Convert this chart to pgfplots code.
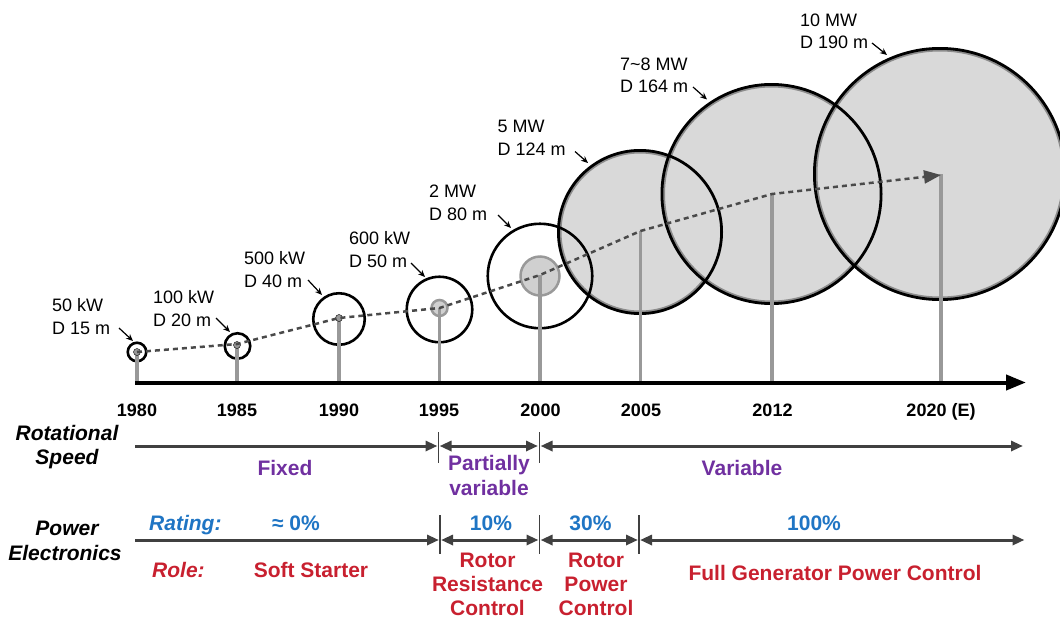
\documentclass[border=0pt]{standalone}
\usepackage{pgfplots}
\pgfplotsset{compat=1.18}
\usepackage{fontspec}
\setmainfont{Liberation Sans}
\usetikzlibrary{arrows.meta}
\definecolor{rsPurple}{HTML}{7030A0}
\definecolor{peBlue}{HTML}{1F75C4}
\definecolor{peRed}{HTML}{C8202F}
\definecolor{fillgray}{HTML}{D9D9D9}
\definecolor{ringgray}{HTML}{8C8C8C}
\definecolor{towergray}{HTML}{999999}
\definecolor{dashgray}{HTML}{4A4A4A}
\definecolor{arrowgray}{HTML}{404040}
\definecolor{hubfill}{HTML}{D0D0D0}
\newcommand\lab{\fontsize{18}{21}\selectfont}
\newcommand\yr{\fontsize{18}{21}\selectfont\bfseries}
\newcommand\bt{\fontsize{21}{25}\selectfont\bfseries}
\newcommand\bit{\fontsize{21}{25}\selectfont\bfseries\itshape}
\begin{document}
\begin{tikzpicture}
\begin{axis}[width=1060pt, height=619pt, scale only axis,
  xmin=0, xmax=1060, ymin=0, ymax=619, y dir=reverse,
  hide axis, clip marker paths=true]

% ---- filled big rotors (fill + gray ring)
\addplot[only marks, mark=*, mark size=80pt, mark options={fill=fillgray, draw=ringgray, line width=3pt}] coordinates {(640,232)};
\addplot[only marks, mark=*, mark size=108pt, mark options={fill=fillgray, draw=ringgray, line width=3pt}] coordinates {(771.5,194)};
\addplot[only marks, mark=*, mark size=124pt, mark options={fill=fillgray, draw=ringgray, line width=3pt}] coordinates {(940,174)};

% ---- black rotor outlines
\addplot[only marks, mark=o, mark size=9.25pt, mark options={draw=black, line width=2.6pt}] coordinates {(137,352)};
\addplot[only marks, mark=o, mark size=12.75pt, mark options={draw=black, line width=2.6pt}] coordinates {(237.5,346)};
\addplot[only marks, mark=o, mark size=25.75pt, mark options={draw=black, line width=2.6pt}] coordinates {(339,319)};
\addplot[only marks, mark=o, mark size=32.75pt, mark options={draw=black, line width=2.6pt}] coordinates {(439.5,309.5)};
\addplot[only marks, mark=o, mark size=52.25pt, mark options={draw=black, line width=2.6pt}] coordinates {(540,276)};
\addplot[only marks, mark=o, mark size=81.6pt, mark options={draw=black, line width=2.8pt}] coordinates {(640,232)};
\addplot[only marks, mark=o, mark size=109.6pt, mark options={draw=black, line width=2.8pt}] coordinates {(771.5,194)};
\addplot[only marks, mark=o, mark size=125.6pt, mark options={draw=black, line width=2.8pt}] coordinates {(940,174)};

% ---- hubs
\addplot[only marks, mark=*, mark size=8pt, mark options={fill=hubfill, draw=towergray, line width=2.5pt}] coordinates {(439.5,308)};
\addplot[only marks, mark=*, mark size=19.5pt, mark options={fill=hubfill, draw=towergray, line width=2.5pt}] coordinates {(540,276)};

% ---- towers
\addplot[towergray, line width=3.5pt] coordinates {(137,352) (137,382)};
\addplot[towergray, line width=3.5pt] coordinates {(237,345) (237,382)};
\addplot[towergray, line width=3.5pt] coordinates {(339,318) (339,382)};
\addplot[towergray, line width=3.5pt] coordinates {(439.5,308) (439.5,382)};
\addplot[towergray, line width=3.5pt] coordinates {(540,275) (540,382)};
\addplot[towergray, line width=3.5pt] coordinates {(640.5,231) (640.5,382)};
\addplot[towergray, line width=3.5pt] coordinates {(772,194) (772,382)};
\addplot[towergray, line width=3.5pt] coordinates {(941,174) (941,382)};
\addplot[only marks, mark=*, mark size=3.5pt, mark options={fill=towergray, draw=none}] coordinates {(137,352) (237,345) (339,318)};

% ---- trend line
\addplot[dashgray, line width=2.5pt, dash pattern=on 5pt off 4pt, -{Triangle[length=17pt,width=13pt]}]
  coordinates {(137,352) (237,344) (339,318) (439.5,308) (540,275) (640.5,231) (772,194) (941,175)};

% ---- time axis
\addplot[black, line width=4pt, -{Triangle[length=20pt,width=15pt]}] coordinates {(135,382.5) (1026,382.5)};

% ---- label arrows
\addplot[black, line width=1.2pt, -{Stealth[length=7pt,width=6pt]}] coordinates {(119,328) (133,341)};
\addplot[black, line width=1.2pt, -{Stealth[length=7pt,width=6pt]}] coordinates {(216,318) (230,332)};
\addplot[black, line width=1.2pt, -{Stealth[length=7pt,width=6pt]}] coordinates {(308,280) (322,295)};
\addplot[black, line width=1.2pt, -{Stealth[length=7pt,width=6pt]}] coordinates {(411,263) (425,277)};
\addplot[black, line width=1.2pt, -{Stealth[length=7pt,width=6pt]}] coordinates {(498,215) (511,228)};
\addplot[black, line width=1.2pt, -{Stealth[length=7pt,width=6pt]}] coordinates {(575,151.5) (588,163)};
\addplot[black, line width=1.2pt, -{Stealth[length=7pt,width=6pt]}] coordinates {(693,87) (707,99.5)};
\addplot[black, line width=1.2pt, -{Stealth[length=7pt,width=6pt]}] coordinates {(872,43) (887,55)};

% ---- rotor labels
\node[anchor=base west, inner sep=0, font=\lab] at (axis cs:52,311.5) {50 kW};
\node[anchor=base west, inner sep=0, font=\lab] at (axis cs:52,334.5) {D 15 m};
\node[anchor=base west, inner sep=0, font=\lab] at (axis cs:153,303.5) {100 kW};
\node[anchor=base west, inner sep=0, font=\lab] at (axis cs:153,326) {D 20 m};
\node[anchor=base west, inner sep=0, font=\lab] at (axis cs:244,264.5) {500 kW};
\node[anchor=base west, inner sep=0, font=\lab] at (axis cs:244,287) {D 40 m};
\node[anchor=base west, inner sep=0, font=\lab] at (axis cs:349,244) {600 kW};
\node[anchor=base west, inner sep=0, font=\lab] at (axis cs:349,267) {D 50 m};
\node[anchor=base west, inner sep=0, font=\lab] at (axis cs:429,197.5) {2 MW};
\node[anchor=base west, inner sep=0, font=\lab] at (axis cs:429,220.5) {D 80 m};
\node[anchor=base west, inner sep=0, font=\lab] at (axis cs:497.5,132.5) {5 MW};
\node[anchor=base west, inner sep=0, font=\lab] at (axis cs:497.5,155) {D 124 m};
\node[anchor=base west, inner sep=0, font=\lab] at (axis cs:620,70) {7\textasciitilde 8 MW};
\node[anchor=base west, inner sep=0, font=\lab] at (axis cs:620,92.5) {D 164 m};
\node[anchor=base west, inner sep=0, font=\lab] at (axis cs:800,26.5) {10 MW};
\node[anchor=base west, inner sep=0, font=\lab] at (axis cs:800,48.5) {D 190 m};

% ---- years
\node[anchor=base, inner sep=0, font=\yr] at (axis cs:137,416) {1980};
\node[anchor=base, inner sep=0, font=\yr] at (axis cs:237,416) {1985};
\node[anchor=base, inner sep=0, font=\yr] at (axis cs:339,416) {1990};
\node[anchor=base, inner sep=0, font=\yr] at (axis cs:439,416) {1995};
\node[anchor=base, inner sep=0, font=\yr] at (axis cs:540.5,416) {2000};
\node[anchor=base, inner sep=0, font=\yr] at (axis cs:641,416) {2005};
\node[anchor=base, inner sep=0, font=\yr] at (axis cs:772.5,416) {2012};
\node[anchor=base, inner sep=0, font=\yr] at (axis cs:941,416) {2020 (E)};

% ---- rotational speed row
\addplot[arrowgray, line width=3pt, -{Triangle[length=12pt,width=10pt]}] coordinates {(135,446) (437.5,446)};
\addplot[arrowgray, line width=3pt, {Triangle[length=12pt,width=10pt]}-{Triangle[length=12pt,width=10pt]}] coordinates {(439.5,446) (538,446)};
\addplot[arrowgray, line width=3pt, {Triangle[length=12pt,width=10pt]}-{Triangle[length=12pt,width=10pt]}] coordinates {(540.5,446) (1023,446)};
\addplot[arrowgray, line width=1.5pt] coordinates {(438.5,432) (438.5,463)};
\addplot[arrowgray, line width=1.5pt] coordinates {(539.3,432) (539.3,463)};

% ---- power electronics row
\addplot[arrowgray, line width=3pt, -{Triangle[length=12pt,width=10pt]}] coordinates {(135,540) (439,540)};
\addplot[arrowgray, line width=3pt, {Triangle[length=12pt,width=10pt]}-{Triangle[length=12pt,width=10pt]}] coordinates {(441,540) (538.5,540)};
\addplot[arrowgray, line width=3pt, {Triangle[length=12pt,width=10pt]}-{Triangle[length=12pt,width=10pt]}] coordinates {(540.5,540) (638,540)};
\addplot[arrowgray, line width=3pt, {Triangle[length=12pt,width=10pt]}-{Triangle[length=12pt,width=10pt]}] coordinates {(640,540) (1024.5,540)};
\addplot[arrowgray, line width=1.5pt] coordinates {(440,515) (440,554)};
\addplot[arrowgray, line width=1.5pt] coordinates {(539.5,515) (539.5,554)};
\addplot[arrowgray, line width=1.5pt] coordinates {(639,515) (639,554)};

% ---- row titles
\node[anchor=base, inner sep=0, font=\bit] at (axis cs:67,440.5) {Rotational};
\node[anchor=base, inner sep=0, font=\bit] at (axis cs:67,464.5) {Speed};
\node[anchor=base, inner sep=0, font=\bit] at (axis cs:67,535.5) {Power};
\node[anchor=base, inner sep=0, font=\bit] at (axis cs:65,560.5) {Electronics};

% ---- rotational speed labels
\node[anchor=base, inner sep=0, font=\bt, text=rsPurple] at (axis cs:285,475.5) {Fixed};
\node[anchor=base, inner sep=0, font=\bt, text=rsPurple] at (axis cs:489,470.5) {Partially};
\node[anchor=base, inner sep=0, font=\bt, text=rsPurple] at (axis cs:489,495.5) {variable};
\node[anchor=base, inner sep=0, font=\bt, text=rsPurple] at (axis cs:742,475.5) {Variable};

% ---- rating labels
\node[anchor=base west, inner sep=0, font=\bit, text=peBlue] at (axis cs:149,530.5) {Rating:};
\node[anchor=base, inner sep=0, font=\bt, text=peBlue] at (axis cs:296,530.5) {≈ 0\%};
\node[anchor=base, inner sep=0, font=\bt, text=peBlue] at (axis cs:491,530.5) {10\%};
\node[anchor=base, inner sep=0, font=\bt, text=peBlue] at (axis cs:590.5,530.5) {30\%};
\node[anchor=base, inner sep=0, font=\bt, text=peBlue] at (axis cs:814,530.5) {100\%};

% ---- role labels
\node[anchor=base west, inner sep=0, font=\bit, text=peRed] at (axis cs:152,577.5) {Role:};
\node[anchor=base, inner sep=0, font=\bt, text=peRed] at (axis cs:311,577.5) {Soft Starter};
\node[anchor=base, inner sep=0, font=\bt, text=peRed] at (axis cs:487.5,567) {Rotor};
\node[anchor=base, inner sep=0, font=\bt, text=peRed] at (axis cs:487.5,591.5) {Resistance};
\node[anchor=base, inner sep=0, font=\bt, text=peRed] at (axis cs:487.5,615.5) {Control};
\node[anchor=base, inner sep=0, font=\bt, text=peRed] at (axis cs:596,567) {Rotor};
\node[anchor=base, inner sep=0, font=\bt, text=peRed] at (axis cs:596,591.5) {Power};
\node[anchor=base, inner sep=0, font=\bt, text=peRed] at (axis cs:596,615.5) {Control};
\node[anchor=base, inner sep=0, font=\bt, text=peRed] at (axis cs:835,580.5) {Full Generator Power Control};
\end{axis}
\pgfresetboundingbox
\useasboundingbox (0,0) rectangle (1060pt,619pt);
\end{tikzpicture}
\end{document}
